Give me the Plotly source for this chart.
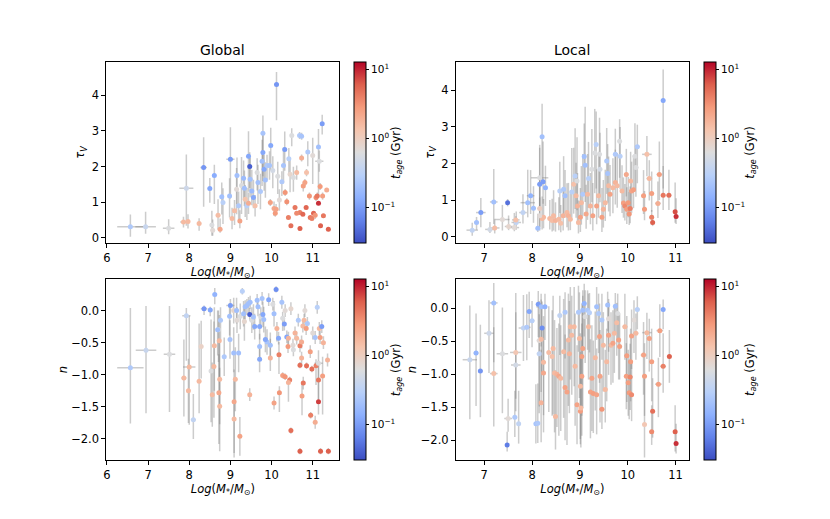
import numpy as np
import plotly.graph_objects as go

# ---- Global: tau_V vs stellar mass ----
g_tau_mass = [6.57, 6.94, 7.50, 7.86, 7.97, 7.93, 8.24, 8.35, 8.50, 8.61, 8.55, 8.57, 8.70, 8.75, 8.79, 8.82,
              8.98, 9.00, 9.04, 9.10, 9.16, 9.15, 9.20, 9.23, 9.27, 9.32, 9.34, 9.36, 9.40, 9.44, 9.47, 9.44,
              9.48, 9.52, 9.56, 9.60, 9.65, 9.67, 9.73, 9.77, 9.79, 9.79, 9.82, 9.85, 9.89, 9.95, 9.98, 9.97,
              10.03, 10.06, 10.09, 10.12, 10.11, 10.15, 10.19, 10.25, 10.29, 10.32, 10.33, 10.37, 10.41, 10.42,
              10.45, 10.47, 10.49, 10.53, 10.57, 10.61, 10.68, 10.73, 10.69, 10.73, 10.76, 10.69, 10.77, 10.81,
              10.84, 10.85, 10.88, 10.92, 10.94, 10.98, 11.00, 11.02, 11.06, 11.08, 11.11, 11.14, 11.14, 11.16,
              11.18, 11.19, 11.23, 11.24, 11.26, 11.34, 11.38, 10.61]
g_tau_mass_err = [0.32, 0.25, 0.14, 0.08, 0.05, 0.17, 0.05, 0.08, 0.05, 0.03, 0.05, 0.05, 0.04, 0.04, 0.04, 0.03,
                  0.04, 0.10, 0.03, 0.03, 0.05, 0.04, 0.03, 0.03, 0.03, 0.03, 0.03, 0.03, 0.04, 0.04, 0.03, 0.03,
                  0.03, 0.03, 0.03, 0.03, 0.03, 0.03, 0.03, 0.03, 0.03, 0.03, 0.03, 0.03, 0.03, 0.03, 0.03, 0.03,
                  0.03, 0.03, 0.03, 0.03, 0.03, 0.03, 0.03, 0.03, 0.03, 0.03, 0.03, 0.03, 0.03, 0.03,
                  0.03, 0.02, 0.03, 0.03, 0.02, 0.03, 0.04, 0.04, 0.02, 0.02, 0.02, 0.02, 0.02, 0.02,
                  0.02, 0.02, 0.02, 0.02, 0.02, 0.02, 0.02, 0.02, 0.02, 0.02, 0.02, 0.02, 0.02, 0.10,
                  0.02, 0.02, 0.02, 0.02, 0.02, 0.02, 0.02, 0.02]
g_tau = [0.31, 0.31, 0.27, 0.44, 0.46, 1.39, 0.40, 1.97, 1.38, 1.75, 0.36, 0.21, 0.63, 0.24, 1.15, 0.99,
         1.17, 2.20, 0.54, 0.76, 1.75, 1.36, 0.90, 0.47, 1.47, 1.67, 1.39, 1.08, 0.90, 2.29, 2.00, 0.97,
         1.64, 1.31, 1.13, 0.90, 1.83, 1.55, 1.30, 2.15, 2.93, 2.39, 1.92, 1.62, 2.03, 2.03, 2.59, 0.99,
         1.89, 0.82, 0.69, 4.30, 0.80, 1.73, 1.06, 1.57, 2.03, 2.48, 1.27, 1.01, 0.57, 2.22,
         1.78, 0.34, 2.87, 1.69, 0.85, 1.83, 2.87, 2.85, 0.71, 2.24, 0.66, 0.26, 1.45, 1.55,
         0.85, 1.83, 2.41, 1.17, 0.57, 0.54, 2.31, 0.69, 0.63, 1.13, 1.17, 0.97, 2.55, 2.15,
         1.44, 0.34, 3.20, 1.17, 0.62, 1.34, 0.24, 0.69]
g_tau_lo = [0.28, 0.20, 0.17, 0.15, 0.20, 1.05, 0.20, 1.10, 0.40, 0.80, 0.30, 0.15, 0.40, 0.10, 0.50, 0.60,
            0.60, 1.10, 0.30, 0.40, 0.80, 0.70, 0.40, 0.20, 0.80, 0.60, 0.50, 0.50, 0.40, 1.00, 0.60, 0.30,
            0.50, 0.40, 0.30, 0.30, 0.50, 0.60, 0.50, 0.70, 1.20, 0.80, 0.60, 0.50, 0.40, 0.40, 0.70, 0.10,
            0.50, 0.20, 0.10, 1.00, 0.15, 0.50, 0.30, 0.40, 0.50, 0.60, 0.10, 0.10, 0.05, 0.40,
            0.50, 0.05, 0.30, 0.40, 0.05, 0.20, 0.10, 0.10, 0.05, 0.10, 0.05, 0.05, 0.15, 0.10,
            0.05, 0.10, 0.40, 0.10, 0.05, 0.05, 0.80, 0.05, 0.10, 0.10, 0.10, 0.05, 1.40, 0.30,
            0.10, 0.05, 0.30, 0.10, 0.05, 0.05, 0.05, 0.05]
g_tau_hi = [0.34, 0.42, 0.25, 0.15, 0.20, 0.95, 0.15, 0.85, 0.30, 0.30, 0.40, 0.30, 0.45, 0.30, 0.40, 0.40,
            0.50, 0.90, 0.30, 0.30, 0.50, 0.60, 0.40, 0.30, 0.80, 0.50, 0.50, 0.40, 0.50, 0.70, 0.40, 0.30,
            0.60, 0.60, 0.50, 0.30, 0.40, 0.50, 0.50, 0.60, 0.50, 0.60, 0.40, 0.50, 0.30, 0.40, 0.50, 0.10,
            0.40, 0.20, 0.10, 0.35, 0.15, 0.40, 0.30, 0.30, 0.50, 0.50, 0.10, 0.10, 0.05, 0.30,
            0.40, 0.05, 0.20, 0.30, 0.05, 0.20, 0.10, 0.10, 0.05, 0.10, 0.05, 0.05, 0.10, 0.10,
            0.05, 0.10, 0.30, 0.10, 0.05, 0.05, 0.50, 0.05, 0.10, 0.10, 0.10, 0.05, 0.50, 0.30,
            0.10, 0.05, 0.25, 0.10, 0.05, 0.05, 0.05, 0.05]
g_tau_age = [0.25, 0.40, 0.60, 1.6, 1.6, 0.45, 1.6, 0.09, 0.12, 0.13, 0.60, 0.70, 1.5, 2.2, 0.20, 0.30,
             0.20, 0.10, 1.6, 1.5, 0.20, 0.70, 0.25, 2.4, 0.60, 0.18, 0.20, 1.3, 0.30, 0.12, 0.04, 2.0,
             0.20, 0.18, 0.12, 1.4, 0.60, 0.20, 0.25, 0.20, 0.22, 0.12, 0.12, 0.20, 0.25, 0.22, 0.12, 2.5,
             0.50, 2.2, 2.8, 0.09, 2.4, 0.60, 0.70, 0.25, 0.22, 0.10, 3.0, 3.2, 4.0, 0.30,
             0.80, 5.0, 0.60, 0.60, 4.5, 1.6, 0.25, 0.22, 4.0, 2.0, 5.5, 6.0, 2.6, 2.4,
             5.5, 1.4, 0.25, 3.0, 4.5, 4.0, 0.70, 5.5, 3.0, 3.5, 4.5, 9.0, 0.20, 0.60,
             2.8, 6.0, 0.10, 2.6, 4.5, 2.0, 6.0, 3.5]

# ---- Global: n vs stellar mass ----
g_n_mass = [6.57, 6.95, 7.52, 7.93, 8.00, 7.87, 7.98, 8.10, 8.24, 8.29, 8.36, 8.51, 8.62, 8.53, 8.56, 8.71,
            8.73, 8.61, 8.60, 8.74, 8.72, 8.74, 8.85, 8.76, 8.69, 9.00, 8.98, 8.99, 9.08, 9.09, 9.12, 9.09,
            9.23, 9.29, 9.08, 9.15, 9.16, 9.20, 9.24, 9.32, 9.34, 9.36, 9.40, 9.44, 9.47, 9.48, 9.47, 9.52,
            9.56, 9.59, 9.65, 9.67, 9.71, 9.74, 9.77, 9.79, 9.81, 9.89, 9.93, 9.97, 9.71, 9.85, 9.71, 9.97,
            10.03, 10.06, 10.11, 10.13, 10.17, 10.18, 10.25, 10.27, 10.31, 10.33, 10.37, 10.41, 10.40, 10.47,
            10.52, 10.53, 10.57, 10.61, 10.65, 10.69, 10.73, 10.76, 10.79, 10.81, 10.84, 10.85, 10.69, 10.73,
            10.87, 10.94, 10.98, 11.00, 11.06, 11.08, 11.11, 11.14, 11.14, 11.16, 11.18, 11.22, 11.26, 11.24,
            11.36, 10.27, 10.33, 10.44, 10.41, 10.19, 10.06, 10.77, 10.74, 11.14, 10.95, 11.06, 10.47, 10.69,
            11.19, 11.38]
g_n_mass_err = [0.32, 0.25, 0.14, 0.10, 0.15, 0.06, 0.04, 0.06, 0.04, 0.04, 0.08, 0.05, 0.03, 0.05, 0.04, 0.04,
                0.04, 0.03, 0.04, 0.03, 0.04, 0.03, 0.03, 0.03, 0.03, 0.10, 0.03, 0.03, 0.03, 0.03, 0.03, 0.03,
                0.03, 0.03, 0.03, 0.03, 0.03, 0.03, 0.03, 0.03, 0.03, 0.03, 0.03, 0.03, 0.03, 0.03, 0.03, 0.03,
                0.03, 0.03, 0.03, 0.03, 0.03, 0.03, 0.03, 0.03, 0.03, 0.03, 0.03, 0.03, 0.03, 0.03, 0.03, 0.03,
                0.03, 0.03, 0.03, 0.03, 0.03, 0.03, 0.03, 0.03, 0.03, 0.03, 0.03, 0.03, 0.03, 0.03,
                0.03, 0.03, 0.03, 0.03, 0.03, 0.02, 0.02, 0.02, 0.02, 0.02, 0.02, 0.02, 0.02, 0.02,
                0.02, 0.02, 0.02, 0.02, 0.02, 0.02, 0.02, 0.10, 0.02, 0.02, 0.02, 0.02, 0.02, 0.02,
                0.02, 0.03, 0.03, 0.03, 0.03, 0.03, 0.03, 0.03, 0.03, 0.02, 0.06, 0.02, 0.02, 0.02,
                0.02, 0.02]
g_n = [-0.89, -0.62, -0.68, -0.08, -0.88, -1.05, -1.25, -1.70, -1.10, -0.56, 0.03, 0.01, 0.25, -0.94, -1.31, -0.30,
       -0.47, -0.55, -0.87, -1.07, -1.28, -1.49, -0.72, -0.15, -0.30, 0.08, -0.09, -0.45, -0.66, -1.42, -1.07, -1.69,
       -1.96, 0.30, 0.00, 0.00, -0.15, -0.66, -0.09, -0.05, -0.17, 0.06, 0.08, 0.11, -0.06, 0.13, -1.31, -0.15,
       -0.10, -0.25, 0.16, 0.06, -0.25, -0.10, 0.19, -0.06, -0.14, -0.49, 0.17, -0.54, -0.56, -0.45, -0.76, -0.74,
       0.10, -0.05, 0.33, -0.28, -0.43, -0.69, 0.13, -0.12, -0.21, 0.00, -0.41, -0.43, -0.56, 0.03,
       -0.54, -0.61, -0.35, -0.43, -0.15, -0.55, -0.49, -0.24, -0.15, 0.00, -0.28, -0.86, -0.85, -0.74,
       -0.20, -0.64, -0.91, -0.35, -0.42, -0.86, 0.05, -0.82, -1.08, -0.28, -0.42, -0.25, -0.50, -1.02,
       -0.77, -1.01, -1.03, -1.08, -1.12, -1.28, -1.44, -1.13, -1.33, -1.42, -1.63, -1.74, -1.87, -2.19,
       -2.19, -2.19]
g_n_lo = [0.87, 0.98, 0.90, 0.70, 0.90, 0.60, 0.50, 0.30, 0.50, 0.50, 0.10, 0.10, 0.15, 0.80, 0.50, 0.50,
          0.60, 0.70, 0.80, 0.70, 0.80, 0.70, 0.30, 0.30, 0.40, 0.15, 0.30, 0.30, 0.30, 0.80, 0.50, 0.60,
          0.30, 0.05, 0.20, 0.20, 0.20, 0.30, 0.20, 0.20, 0.30, 0.20, 0.15, 0.15, 0.10, 0.10, 0.10, 0.20,
          0.20, 0.20, 0.10, 0.15, 0.20, 0.15, 0.10, 0.20, 0.20, 0.20, 0.10, 0.20, 0.20, 0.20, 0.20, 0.20,
          0.10, 0.20, 0.05, 0.20, 0.10, 0.30, 0.10, 0.20, 0.10, 0.10, 0.10, 0.10, 0.10, 0.10,
          0.10, 0.10, 0.10, 0.10, 0.10, 0.10, 0.10, 0.10, 0.10, 0.10, 0.10, 0.05, 0.05, 0.10,
          0.10, 0.10, 0.05, 0.10, 0.10, 0.30, 0.10, 0.30, 0.30, 0.10, 0.10, 0.10, 0.10, 0.60,
          0.10, 0.05, 0.05, 0.05, 0.30, 0.30, 0.10, 0.10, 0.30, 0.20, 0.05, 0.10, 0.05, 0.05,
          0.05, 0.05]
g_n_hi = [0.93, 0.69, 0.75, 0.12, 0.80, 0.60, 0.50, 0.40, 0.90, 0.40, 0.05, 0.05, 0.10, 0.80, 0.50, 0.30,
          0.40, 0.60, 0.70, 0.60, 0.60, 0.60, 0.30, 0.20, 0.30, 0.10, 0.20, 0.30, 0.40, 0.50, 0.50, 0.60,
          0.30, 0.05, 0.20, 0.20, 0.20, 0.30, 0.20, 0.20, 0.20, 0.10, 0.10, 0.10, 0.10, 0.10, 0.10, 0.20,
          0.20, 0.20, 0.10, 0.10, 0.20, 0.15, 0.10, 0.20, 0.20, 0.20, 0.10, 0.20, 0.20, 0.20, 0.20, 0.30,
          0.10, 0.20, 0.05, 0.10, 0.10, 0.20, 0.10, 0.10, 0.10, 0.10, 0.10, 0.10, 0.10, 0.10,
          0.10, 0.10, 0.10, 0.10, 0.10, 0.10, 0.10, 0.10, 0.10, 0.10, 0.10, 0.05, 0.05, 0.10,
          0.10, 0.10, 0.05, 0.10, 0.10, 0.10, 0.10, 0.20, 0.30, 0.10, 0.10, 0.10, 0.10, 0.30,
          0.10, 0.05, 0.05, 0.05, 0.05, 0.10, 0.10, 0.10, 0.20, 0.30, 0.05, 0.10, 0.05, 0.05,
          0.05, 0.05]
g_n_age = [0.25, 0.40, 0.60, 0.35, 1.6, 1.6, 1.6, 0.35, 1.6, 0.90, 0.09, 0.12, 0.15, 0.60, 1.6, 0.60,
           1.6, 1.6, 1.6, 1.6, 2.2, 1.6, 0.25, 0.25, 0.20, 0.10, 0.20, 0.22, 0.20, 2.2, 1.6, 1.6,
           2.4, 0.30, 0.80, 0.20, 0.70, 0.20, 0.60, 0.20, 0.80, 0.20, 0.20, 0.20, 0.04, 0.20, 1.8, 0.60,
           0.22, 0.12, 0.20, 0.20, 0.12, 0.60, 0.22, 0.12, 0.20, 0.22, 0.12, 0.20, 0.20, 0.12, 0.12, 1.8,
           0.60, 0.20, 0.08, 1.8, 0.12, 4.0, 0.22, 0.60, 0.10, 0.70, 0.12, 1.8, 2.8, 0.80,
           0.70, 0.60, 1.8, 1.6, 0.25, 4.0, 2.0, 1.6, 1.6, 0.70, 2.6, 5.0, 5.0, 1.8,
           0.25, 2.6, 5.0, 0.70, 0.22, 4.0, 0.30, 0.60, 4.5, 1.6, 2.6, 0.10, 1.8, 2.6,
           1.8, 2.6, 3.0, 4.0, 1.8, 3.0, 2.4, 4.5, 2.6, 8.0, 4.0, 2.0, 5.0, 6.0,
           6.0, 6.0]

# ---- Local: tau_V vs stellar mass ----
l_tau_mass = [6.75, 6.84, 6.93, 7.12, 7.20, 7.22, 7.49, 7.38, 7.51, 7.63, 7.67, 7.66, 7.81, 7.91, 7.97, 8.03,
              8.12, 8.16, 8.16, 8.21, 8.23, 8.28, 8.16, 8.21, 8.24, 8.16, 8.37, 8.42, 8.45, 8.49, 8.56, 8.60,
              8.65, 8.58, 8.66, 8.69, 8.73, 8.76, 8.80, 8.83, 8.87, 8.90, 8.92, 8.94, 8.95, 8.97, 9.01, 9.03,
              9.06, 9.09, 9.11, 9.13, 9.16, 9.18, 9.22, 9.25, 9.27, 9.31, 9.34, 9.35, 9.39, 9.41, 9.42, 9.46,
              9.49, 9.53, 9.56, 9.58, 9.60, 9.63, 9.69, 9.74, 9.74, 9.78, 9.83, 9.84, 9.88, 9.91, 9.94, 9.97,
              9.98, 10.01, 10.03, 10.05, 10.06, 10.08, 10.12, 10.15, 10.17, 10.20, 10.33, 10.35, 10.40, 10.45,
              10.50, 10.50, 10.52, 10.63, 10.66, 10.74, 10.74, 10.86, 10.99, 11.01]
l_tau_mass_err = [0.12, 0.05, 0.10, 0.10, 0.08, 0.10, 0.03, 0.15, 0.08, 0.10, 0.10, 0.08, 0.08, 0.15, 0.08, 0.05,
                  0.03, 0.18, 0.05, 0.03, 0.04, 0.04, 0.05, 0.05, 0.04, 0.04, 0.04, 0.04, 0.04, 0.04, 0.04, 0.04,
                  0.04, 0.04, 0.04, 0.04, 0.04, 0.04, 0.04, 0.04, 0.04, 0.04, 0.04, 0.04, 0.04, 0.04, 0.04, 0.04,
                  0.04, 0.04, 0.04, 0.04, 0.04, 0.04, 0.04, 0.04, 0.04, 0.04, 0.04, 0.04, 0.04, 0.04, 0.04, 0.04,
                  0.04, 0.04, 0.04, 0.04, 0.04, 0.04, 0.04, 0.04, 0.04, 0.04, 0.04, 0.04, 0.04, 0.04, 0.05, 0.04,
                  0.05, 0.05, 0.05, 0.05, 0.05, 0.05, 0.05, 0.05, 0.05, 0.05, 0.05, 0.05, 0.10, 0.06,
                  0.05, 0.04, 0.03, 0.06, 0.06, 0.04, 0.04, 0.05, 0.02, 0.02]
l_tau = [0.18, 0.39, 0.66, 0.20, 0.95, 0.24, 0.93, 0.47, 0.28, 0.25, 0.39, 0.46, 0.66, 0.93, 1.12, 0.78,
         0.23, 1.61, 1.43, 2.73, 1.50, 1.34, 0.77, 0.50, 0.53, 0.57, 0.50, 0.44, 0.57, 0.44, 0.48, 0.37,
         0.57, 1.25, 1.30, 1.12, 0.66, 0.57, 0.48, 1.22, 1.43, 1.66, 1.12, 1.52, 0.84, 0.39, 0.53, 0.93,
         1.16, 2.19, 1.95, 0.62, 1.16, 1.59, 0.84, 1.84, 0.57, 2.29, 2.52, 0.84, 1.12, 2.25, 1.84, 0.53,
         0.75, 0.93, 2.07, 1.73, 1.39, 1.16, 1.34, 1.48, 2.25, 1.39, 2.61, 2.20, 1.25, 0.92, 0.84, 1.70,
         0.75, 0.93, 0.62, 0.77, 1.52, 1.25, 1.28, 2.20, 1.89, 2.46, 1.12, 0.75, 2.25, 1.59,
         1.18, 0.53, 0.39, 0.91, 1.70, 3.72, 1.13, 1.13, 0.68, 0.55]
l_tau_lo = [0.15, 0.20, 0.40, 0.10, 0.60, 0.15, 0.10, 0.30, 0.10, 0.10, 0.20, 0.10, 0.30, 0.40, 0.50, 0.40,
            0.10, 0.80, 0.60, 1.30, 0.60, 0.50, 0.50, 0.30, 0.30, 0.40, 0.30, 0.30, 0.40, 0.30, 0.30, 0.25,
            0.40, 0.60, 0.70, 0.60, 0.40, 0.40, 0.30, 0.70, 0.80, 0.90, 0.60, 0.80, 0.50, 0.30, 0.40, 0.60,
            0.60, 1.00, 1.00, 0.40, 0.70, 0.80, 0.50, 0.90, 0.40, 1.10, 1.20, 0.50, 0.60, 1.10, 0.90, 0.40,
            0.50, 0.50, 0.90, 0.80, 0.70, 0.60, 0.70, 0.60, 0.90, 0.60, 1.00, 0.90, 0.60, 0.40, 0.40, 0.60,
            0.40, 0.40, 0.30, 0.40, 0.70, 0.60, 0.50, 0.90, 0.80, 1.00, 0.50, 0.30, 0.60, 0.60,
            0.50, 0.20, 0.10, 0.40, 0.70, 2.40, 0.40, 0.40, 0.30, 0.20]
l_tau_hi = [0.20, 0.15, 0.40, 0.20, 0.90, 0.25, 0.10, 0.40, 0.30, 0.40, 0.30, 0.10, 0.50, 0.90, 0.70, 0.60,
            0.40, 0.90, 1.00, 0.90, 1.10, 0.60, 0.80, 0.60, 0.50, 0.50, 0.50, 0.60, 0.70, 0.50, 0.60, 0.50,
            0.70, 0.80, 0.90, 0.70, 0.80, 0.90, 0.70, 1.20, 1.00, 1.30, 0.90, 1.20, 0.90, 0.60, 0.80, 1.00,
            1.10, 0.90, 1.60, 0.80, 1.10, 1.00, 0.90, 1.10, 0.90, 1.20, 0.90, 1.00, 1.20, 1.00, 1.00, 0.80,
            0.80, 0.90, 0.90, 0.80, 0.80, 0.80, 0.80, 0.90, 0.70, 0.90, 0.60, 0.80, 0.70, 0.70, 0.60, 0.70,
            0.60, 0.70, 0.60, 0.60, 0.80, 0.80, 0.90, 0.90, 0.60, 0.60, 0.70, 0.50, 0.50, 0.50,
            0.60, 0.20, 0.20, 0.60, 0.90, 0.85, 0.80, 0.70, 0.80, 0.50]
l_tau_age = [0.35, 0.20, 0.10, 0.50, 0.20, 1.5, 0.05, 0.70, 0.80, 0.70, 0.35, 1.4, 0.35, 0.20, 0.15, 0.20,
             0.20, 0.60, 0.10, 0.20, 0.10, 0.15, 1.0, 1.6, 1.6, 0.70, 1.6, 1.5, 1.6, 1.8, 1.6, 1.4,
             1.8, 0.30, 0.25, 0.20, 1.6, 1.8, 1.6, 0.30, 1.4, 0.30, 1.6, 0.60, 1.8, 1.6, 2.4, 1.6,
             0.25, 0.20, 0.20, 2.2, 1.6, 0.30, 1.8, 0.60, 2.4, 0.60, 0.30, 2.4, 1.6, 0.60, 0.50, 2.6,
             1.8, 1.6, 0.25, 0.22, 1.6, 2.4, 1.6, 1.8, 0.25, 1.6, 0.60, 0.30, 1.6, 2.6, 3.5, 2.2,
             2.6, 2.8, 3.0, 4.0, 1.6, 2.4, 2.6, 0.60, 0.60, 0.25, 2.6, 2.8, 1.4, 1.6,
             2.6, 4.0, 6.0, 2.0, 2.6, 0.12, 4.5, 5.0, 7.0, 9.0]

# ---- Local: n vs stellar mass ----
l_n_mass = [6.70, 6.83, 6.92, 7.10, 7.20, 7.20, 7.38, 7.50, 7.48, 7.66, 7.66, 7.64, 7.72, 7.82, 7.89, 7.94,
            8.00, 8.08, 8.13, 8.19, 8.21, 8.15, 8.15, 8.27, 8.19, 8.24, 8.24, 8.19, 8.12, 8.35, 8.42, 8.44,
            8.47, 8.52, 8.56, 8.60, 8.49, 8.58, 8.66, 8.69, 8.73, 8.69, 8.76, 8.78, 8.80, 8.83, 8.88, 8.90,
            8.94, 8.97, 8.99, 9.01, 9.02, 9.01, 9.04, 9.04, 9.06, 9.06, 9.09, 9.11, 9.16, 9.18, 9.20, 9.22,
            9.25, 9.28, 9.32, 9.35, 9.35, 9.39, 9.41, 9.42, 9.46, 9.46, 9.49, 9.53, 9.56, 9.60, 9.60, 9.58,
            9.65, 9.69, 9.72, 9.74, 9.77, 9.79, 9.81, 9.83, 9.94, 9.98, 9.97, 10.01, 10.03, 10.06, 10.05,
            10.08, 10.08, 10.13, 10.17, 10.20, 10.33, 10.35, 10.35, 10.40, 10.45, 10.50, 10.52, 10.50, 10.64,
            10.67, 10.74, 10.74, 10.87, 10.99, 11.01]
l_n_mass_err = [0.15, 0.05, 0.05, 0.10, 0.08, 0.08, 0.12, 0.08, 0.03, 0.12, 0.10, 0.04, 0.04, 0.10, 0.08, 0.05,
                0.05, 0.04, 0.05, 0.10, 0.04, 0.05, 0.05, 0.04, 0.04, 0.04, 0.04, 0.04, 0.04, 0.04, 0.04, 0.04,
                0.04, 0.04, 0.04, 0.04, 0.04, 0.04, 0.04, 0.04, 0.04, 0.04, 0.04, 0.04, 0.04, 0.04, 0.04, 0.04,
                0.04, 0.04, 0.04, 0.04, 0.04, 0.04, 0.04, 0.04, 0.04, 0.04, 0.04, 0.04, 0.04, 0.04, 0.04, 0.04,
                0.04, 0.04, 0.04, 0.04, 0.04, 0.04, 0.04, 0.04, 0.05, 0.04, 0.04, 0.04, 0.04, 0.04, 0.04, 0.04,
                0.04, 0.04, 0.04, 0.04, 0.04, 0.04, 0.04, 0.04, 0.05, 0.05, 0.05, 0.05, 0.05, 0.05, 0.05,
                0.05, 0.05, 0.05, 0.05, 0.05, 0.06, 0.05, 0.03, 0.10, 0.05, 0.05, 0.04, 0.05, 0.07,
                0.07, 0.03, 0.06, 0.04, 0.02, 0.02]
l_n = [-0.78, -0.68, -0.95, -0.38, 0.08, -0.99, -0.69, -1.67, -2.07, -0.67, -0.86, -1.65, -1.75, -0.30, -0.29, -0.05,
       -0.19, -1.75, 0.06, 0.02, -0.30, -0.49, -0.69, 0.02, -0.47, -0.82, -0.98, -1.43, -1.74, -0.67, -0.73, -0.61,
       -0.98, -1.00, -1.03, -1.06, -1.64, -0.11, -0.66, -1.20, -1.27, -0.06, -0.48, -0.69, -0.28, -0.41, -0.28, -0.88,
       -1.46, -0.06, -0.46, -1.56, -1.51, -1.18, -1.03, -0.73, -0.61, -0.03, 0.07, -0.13, -0.03, -0.28, -0.07, -1.27,
       -1.06, -1.29, -0.75, -1.31, 0.02, -0.08, -0.43, -1.03, -1.53, -0.18, -0.56, -1.23, -0.81, -0.41, -0.16, 0.05,
       -0.56, -0.53, -0.38, 0.03, -0.22, -0.08, -0.48, -0.58, -0.28, -0.72, -1.03, -1.13, -1.28, -0.81, -1.04,
       -1.31, -0.42, -0.18, -0.38, -0.02, -0.71, -1.03, -1.76, -0.37, -0.46, -0.81, -1.56, -1.87, -1.15,
       -0.34, -0.02, -0.88, -0.73, -1.87, -2.05]
l_n_lo = [0.90, 0.80, 0.70, 0.60, 0.90, 0.80, 0.90, 0.20, 0.10, 0.70, 0.70, 0.30, 0.30, 0.50, 0.50, 0.40,
          0.40, 0.30, 0.50, 0.60, 0.70, 1.00, 0.90, 0.50, 0.80, 0.80, 0.90, 0.60, 0.30, 0.90, 0.90, 1.00,
          0.90, 0.80, 0.90, 0.80, 0.50, 0.60, 1.00, 0.80, 0.80, 0.70, 1.00, 0.90, 0.80, 0.90, 0.90, 0.90,
          0.60, 0.60, 0.90, 0.50, 0.60, 0.80, 0.90, 0.90, 0.90, 0.60, 0.50, 0.70, 0.60, 0.80, 0.60, 0.70,
          0.80, 0.60, 0.80, 0.60, 0.50, 0.60, 0.70, 0.70, 0.30, 0.60, 0.70, 0.50, 0.60, 0.60, 0.50, 0.40,
          0.60, 0.60, 0.60, 0.40, 0.50, 0.40, 0.60, 0.50, 0.50, 0.70, 0.50, 0.50, 0.40, 0.60, 0.50,
          0.40, 0.50, 0.50, 0.40, 0.30, 0.60, 0.60, 0.50, 0.40, 0.50, 0.60, 0.40, 0.20, 0.50,
          0.40, 0.30, 0.40, 0.40, 0.30, 0.15]
l_n_hi = [0.82, 0.60, 0.70, 0.50, 0.30, 0.70, 0.70, 0.30, 0.20, 0.90, 0.80, 0.40, 0.50, 0.50, 0.50, 0.30,
          0.30, 0.60, 0.20, 0.20, 0.40, 0.60, 0.60, 0.20, 0.60, 0.70, 0.70, 0.80, 0.60, 0.70, 0.70, 0.80,
          0.80, 0.70, 0.80, 0.80, 0.70, 0.30, 0.80, 0.80, 0.80, 0.30, 0.70, 0.80, 0.60, 0.60, 0.60, 0.80,
          0.90, 0.40, 0.70, 0.90, 0.80, 0.80, 0.80, 0.80, 0.80, 0.30, 0.30, 0.40, 0.30, 0.50, 0.30, 0.80,
          0.80, 0.80, 0.70, 0.70, 0.30, 0.30, 0.50, 0.70, 0.50, 0.40, 0.50, 0.60, 0.50, 0.50, 0.30, 0.20,
          0.50, 0.50, 0.40, 0.20, 0.30, 0.30, 0.40, 0.50, 0.50, 0.60, 0.50, 0.50, 0.50, 0.50, 0.50,
          0.50, 0.40, 0.30, 0.30, 0.20, 0.50, 0.50, 0.70, 0.30, 0.30, 0.50, 0.50, 0.40, 0.40,
          0.40, 0.15, 0.50, 0.40, 0.40, 0.30]
l_n_age = [0.40, 0.15, 0.09, 0.45, 0.20, 1.4, 0.60, 0.70, 0.06, 1.2, 0.50, 0.25, 0.35, 0.35, 0.25, 0.12,
           0.30, 0.22, 0.10, 0.20, 0.08, 0.70, 0.35, 0.15, 1.5, 1.6, 2.2, 1.8, 0.25, 1.5, 1.4, 1.6,
           1.6, 1.8, 2.2, 1.6, 1.6, 0.35, 1.6, 2.4, 2.4, 0.25, 1.6, 1.8, 1.6, 1.6, 1.6, 1.6,
           2.4, 0.25, 1.6, 2.6, 1.6, 1.6, 2.4, 2.6, 2.4, 0.20, 0.15, 0.60, 0.25, 1.6, 0.30, 2.4,
           2.4, 2.6, 1.6, 2.4, 0.20, 0.25, 2.4, 2.4, 3.0, 0.25, 1.6, 1.6, 1.6, 2.4, 0.70, 0.20,
           1.6, 2.4, 1.6, 0.20, 1.5, 0.60, 2.4, 2.6, 1.6, 2.6, 2.6, 2.6, 2.8, 2.6, 3.5,
           3.5, 2.4, 0.70, 1.6, 0.30, 2.4, 2.6, 1.2, 1.6, 2.4, 2.6, 5.0, 3.5, 2.6,
           2.6, 0.12, 4.0, 6.0, 6.0, 9.0]

# colorbar ticks (t_age in Gyr, log scale)
cb_major = [0.1, 1, 10]
cb_major_text = ["10<sup>\u22121</sup>", "10<sup>0</sup>", "10<sup>1</sup>"]

AGE_MIN, AGE_MAX = 0.0302, 12.9

coolwarm = [
    [0.0, "rgb(59,76,192)"], [0.125, "rgb(98,130,234)"], [0.25, "rgb(141,176,254)"],
    [0.375, "rgb(184,208,249)"], [0.5, "rgb(221,221,221)"], [0.625, "rgb(245,196,173)"],
    [0.75, "rgb(244,154,123)"], [0.875, "rgb(222,96,77)"], [1.0, "rgb(180,4,38)"],
]

FONT = "DejaVu Sans"
W, H = 830, 519

# axes placement (matplotlib default subplot grid with colorbars)
col_x = [(103.75, 337.7), (454.6, 688.5)]
row_y = [(62.3, 243.9), (280.2, 461.9)]
cbar_x = [352.3, 703.1]
cbar_label_x = [395, 750]


def colorbar(col, row):
    return dict(
        x=cbar_x[col] / W, xanchor="left", xpad=0,
        y=1 - row_y[row][0] / H, yanchor="top", ypad=0,
        len=(row_y[row][1] - row_y[row][0]) / H, lenmode="fraction",
        thickness=12, thicknessmode="pixels",
        outlinewidth=1, outlinecolor="black",
        tickvals=list(np.log10(cb_major)), ticktext=cb_major_text,
        ticks="outside", ticklen=3, tickcolor="black",
        tickfont=dict(family=FONT, size=10.5, color="black"),
    )


def panel(mass, mass_err, y, y_lo, y_hi, age, col, row, idx):
    return go.Scatter(
        x=mass, y=y, mode="markers",
        xaxis="x" + ("" if idx == 1 else str(idx)),
        yaxis="y" + ("" if idx == 1 else str(idx)),
        error_x=dict(type="data", array=mass_err, color="rgba(128,128,128,0.4)", thickness=1.5, width=0),
        error_y=dict(type="data", symmetric=False, array=y_hi, arrayminus=y_lo,
                     color="rgba(128,128,128,0.4)", thickness=1.5, width=0),
        marker=dict(size=5, color=np.log10(age), colorscale=coolwarm,
                    cmin=np.log10(AGE_MIN), cmax=np.log10(AGE_MAX),
                    line=dict(width=0), showscale=True, colorbar=colorbar(col, row)),
        showlegend=False, hoverinfo="skip",
    )


fig = go.Figure()
fig.add_trace(panel(g_tau_mass, g_tau_mass_err, g_tau, g_tau_lo, g_tau_hi, g_tau_age, 0, 0, 1))
fig.add_trace(panel(l_tau_mass, l_tau_mass_err, l_tau, l_tau_lo, l_tau_hi, l_tau_age, 1, 0, 2))
fig.add_trace(panel(g_n_mass, g_n_mass_err, g_n, g_n_lo, g_n_hi, g_n_age, 0, 1, 3))
fig.add_trace(panel(l_n_mass, l_n_mass_err, l_n, l_n_lo, l_n_hi, l_n_age, 1, 1, 4))

xlabel = "<i>Log</i>(<i>M</i><sub>*</sub>/<i>M</i><sub>\u2299</sub>)"
tick_font = dict(family=FONT, size=11.5, color="black")
axis_common = dict(showline=True, linecolor="black", linewidth=1, mirror=True, ticks="outside",
                   ticklen=4, tickcolor="black", showgrid=False, zeroline=False, tickfont=tick_font)

xranges = [[5.987, 11.65], [6.41, 11.28]]
yranges = {(0, 0): [-0.145, 4.93], (1, 0): [-0.17, 4.77], (0, 1): [-2.33, 0.49], (1, 1): [-2.30, 0.44]}
ylabels = ["<i>\u03c4</i><sub><i>V</i></sub>", "<i>n</i>"]

layout = {}
annotations = []
idx = 1
for row in range(2):
    for col in range(2):
        sx = "" if idx == 1 else str(idx)
        xd = [col_x[col][0] / W, col_x[col][1] / W]
        yd = [1 - row_y[row][1] / H, 1 - row_y[row][0] / H]
        layout["xaxis" + sx] = dict(axis_common, domain=xd, range=xranges[col], anchor="y" + sx,
                                    tickmode="linear", tick0=6, dtick=1,
                                    title=dict(text=xlabel, standoff=0,
                                               font=dict(family=FONT, size=11.5, color="black")))
        ytick = dict(tickmode="linear", tick0=0, dtick=1) if row == 0 else \
            dict(tickmode="linear", tick0=0, dtick=0.5, tickformat=".1f")
        layout["yaxis" + sx] = dict(axis_common, domain=yd, range=yranges[(col, row)], anchor="x" + sx,
                                    title=dict(text=ylabels[row], standoff=4 if row == 0 else 1,
                                               font=dict(family=FONT, size=11.5, color="black")),
                                    **ytick)
        # colorbar label
        annotations.append(dict(text="<i>t</i><sub><i>age</i></sub> (Gyr)", textangle=-90,
                                x=cbar_label_x[col] / W, y=1 - (row_y[row][0] + row_y[row][1]) / 2 / H,
                                xref="paper", yref="paper", xanchor="center", yanchor="middle",
                                showarrow=False, font=dict(family=FONT, size=11.5, color="black")))
        idx += 1

for text, col in (("Global", 0), ("Local", 1)):
    annotations.append(dict(text=text, x=(col_x[col][0] + col_x[col][1]) / 2 / W, y=1 - 60 / H,
                            xref="paper", yref="paper", xanchor="center", yanchor="bottom",
                            showarrow=False, font=dict(family=FONT, size=14, color="black")))

fig.update_layout(**layout)
fig.update_layout(
    width=W, height=H, margin=dict(l=0, r=0, t=0, b=0),
    paper_bgcolor="white", plot_bgcolor="white",
    font=dict(family=FONT, color="black"),
    annotations=annotations,
)

fig.write_html("out.html", config={"displayModeBar": False},
               post_script="document.body.style.margin='0';")
